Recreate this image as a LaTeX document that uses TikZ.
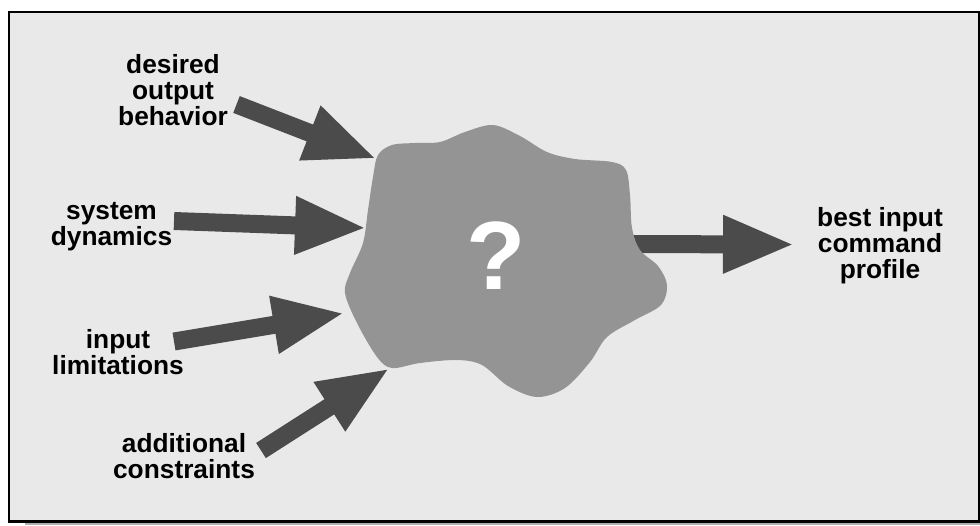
\documentclass[tikz,border=0pt]{standalone}
\usepackage{fontspec}
\setmainfont{Liberation Sans}
\usetikzlibrary{arrows.meta}
\definecolor{panel}{HTML}{E9E9E9}
\definecolor{blobgray}{HTML}{949494}
\definecolor{arrowgray}{HTML}{4B4B4B}
\definecolor{shadowgray}{HTML}{AFAFAF}
\begin{document}
\begin{tikzpicture}[x=1pt,y=-1pt,
  lbl/.style={font=\fontsize{26.3}{26}\selectfont\bfseries, align=center, inner sep=0pt, text=black},
  fatarrow/.style={draw=arrowgray, line width=18pt, -{Triangle[length=72pt,width=53pt]}},
]
\useasboundingbox (0,0) rectangle (980,525);

% panel with its thin drop shadow
\fill[shadowgray] (25,522) rectangle (980,525);
\draw[fill=panel, line width=2.4pt] (9,12) rectangle (979,521.5);

% end points of the arrows
\coordinate (core) at (610,244);
\coordinate (outtip) at (795,244.5);
\coordinate (s1) at (236.5,104.5);  \coordinate (e1) at (377,159);
\coordinate (s2) at (174,221);      \coordinate (e2) at (367,228);
\coordinate (s3) at (174,341.5);    \coordinate (e3) at (345,313);
\coordinate (s4) at (261,450.5);    \coordinate (e4) at (390,368);

% outgoing arrow runs out from under the blob
\draw[fatarrow] (core) -- (outtip);

% the unknown process
\fill[blobgray] plot[smooth cycle, tension=0.55] coordinates {
  (373,177) (378,155) (392,145) (415,143) (440,142) (465,132) (493,125)
  (520,136) (547,152) (575,159) (612,162) (626,170) (630,195) (632,228)
  (640,250) (658,266) (667,285) (661,305) (635,320) (607,337) (590,362)
  (565,388) (537,397) (508,386) (482,365) (457,360) (420,363) (392,368)
  (377,357) (357,323) (345,293) (350,273) (363,243) (368,210)};
\node[font=\fontsize{97}{97}\selectfont\bfseries, text=white, inner sep=0pt] (q) at (496,256) {?};

% incoming arrows
\draw[fatarrow] (s1) -- (e1);
\draw[fatarrow] (s2) -- (e2);
\draw[fatarrow] (s3) -- (e3);
\draw[fatarrow] (s4) -- (e4);

% labels
\node[lbl] (l1) at (173,90) {desired\\output\\behavior};
\node[lbl] (l2) at (111.5,227) {system\\dynamics};
\node[lbl] (l3) at (118,352) {input\\limitations};
\node[lbl] (l4) at (184,456) {additional\\constraints};
\node[lbl] (l5) at (880,246) {best input\\command\\profile};
\end{tikzpicture}
\end{document}
